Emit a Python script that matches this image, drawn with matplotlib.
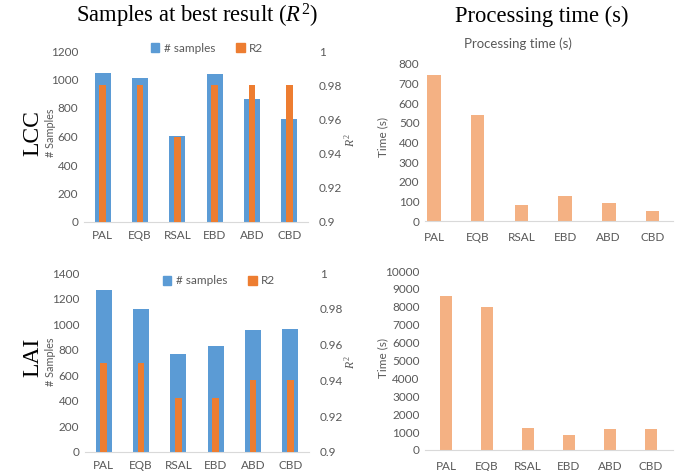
import matplotlib
matplotlib.use("Agg")
import matplotlib.pyplot as plt
from matplotlib.patches import Patch
from matplotlib.ticker import FuncFormatter

methods = ["PAL", "EQB", "RSAL", "EBD", "ABD", "CBD"]

# LCC
lcc_samples = [1045, 1012, 603, 1038, 865, 725]
lcc_r2 = [0.98, 0.98, 0.95, 0.98, 0.98, 0.98]
lcc_time = [742, 538, 80, 126, 90, 50]

# LAI
lai_samples = [1265, 1120, 763, 829, 957, 965]
lai_r2 = [0.95, 0.95, 0.93, 0.93, 0.94, 0.94]
lai_time = [8630, 8000, 1220, 830, 1150, 1150]

BLUE = "#5B9BD5"
ORANGE = "#ED7D31"
LIGHT = "#F4B183"
GREY = "#595959"

plt.rcParams["font.family"] = ["Lato", "DejaVu Sans"]
plt.rcParams["mathtext.fontset"] = "custom"
plt.rcParams["mathtext.rm"] = "Liberation Serif"
plt.rcParams["mathtext.it"] = "Liberation Serif:italic"

W, H = 679, 471
fig = plt.figure(figsize=(W / 100, H / 100), dpi=100)


def px_axes(x0, x1, y0, y1):
    # pixel box (top-left origin) -> figure axes
    return fig.add_axes([x0 / W, 1 - y1 / H, (x1 - x0) / W, (y1 - y0) / H])


def style(ax):
    for s in ["top", "right", "left"]:
        ax.spines[s].set_visible(False)
    ax.spines["bottom"].set_color("#D9D9D9")
    ax.tick_params(length=0, labelsize=8.5, colors=GREY, pad=4)


def samples_chart(box, samples, r2, ymax, step, ylab_y, legend_xy, r2_lab_y):
    ax = px_axes(*box)
    x = list(range(len(methods)))
    ax.bar(x, samples, width=0.42, color=BLUE, zorder=2)
    ax.set_xlim(-0.5, 5.5)
    ax.set_ylim(0, ymax)
    ax.set_yticks(range(0, ymax + 1, step))
    ax.set_xticks(x)
    ax.set_xticklabels(methods)
    style(ax)
    ax.tick_params(axis="x", pad=6)

    ax2 = ax.twinx()
    ax2.bar(x, r2, width=0.18, color=ORANGE, zorder=3)
    ax2.set_ylim(0.9, 1.0)
    ax2.set_yticks([0.9, 0.92, 0.94, 0.96, 0.98, 1.0])
    ax2.yaxis.set_major_formatter(FuncFormatter(lambda v, p: "%g" % round(v, 2)))
    for s in ["top", "right", "left", "bottom"]:
        ax2.spines[s].set_visible(False)
    ax2.tick_params(length=0, labelsize=8.5, colors=GREY, pad=8)

    fig.text(50 / W, 1 - ylab_y / H, "# Samples", rotation=90, fontsize=7.8,
             color=GREY, ha="center", va="center")
    fig.text(350 / W, 1 - r2_lab_y / H, "$R^2$", rotation=90, fontsize=8.5,
             color=GREY, ha="center", va="center")

    handles = [Patch(color=BLUE, label="# samples"), Patch(color=ORANGE, label="R2")]
    fig.legend(handles=handles, loc="center", ncol=2, frameon=False,
               bbox_to_anchor=(legend_xy[0] / W, 1 - legend_xy[1] / H),
               fontsize=8.5, handlelength=0.7, handleheight=0.7,
               handletextpad=0.4, columnspacing=1.8, labelcolor=GREY)


def time_chart(box, xlim, times, ymax, step, width, ylab_y):
    ax = px_axes(*box)
    x = list(range(len(methods)))
    ax.bar(x, times, width=width, color=LIGHT, zorder=2)
    ax.set_xlim(*xlim)
    ax.set_ylim(0, ymax)
    ax.set_yticks(range(0, ymax + 1, step))
    ax.set_xticks(x)
    ax.set_xticklabels(methods)
    style(ax)
    ax.tick_params(axis="x", pad=8)
    fig.text(383 / W, 1 - ylab_y / H, "Time (s)", rotation=90, fontsize=8.5,
             color=GREY, ha="center", va="center")
    return ax


samples_chart((84, 308, 51, 222), lcc_samples, lcc_r2, 1200, 200, 133, (207, 48), 140)
samples_chart((85, 309, 273, 452), lai_samples, lai_r2, 1400, 200, 362, (219, 281), 362)

time_chart((425, 673, 64, 221), (-0.206, 5.47), lcc_time, 800, 100, 0.31, 137)
time_chart((425, 673, 271, 450), (-0.51, 5.54), lai_time, 10000, 1000, 0.3, 358)

fig.text(518 / W, 1 - 44 / H, "Processing time (s)", fontsize=9.5, color=GREY,
         ha="center", va="center")

fig.text(197 / W, 1 - 16 / H, "Samples at best result ($R^2$)", fontsize=16.3,
         family="Liberation Serif", ha="center", va="center")
fig.text(542 / W, 1 - 16 / H, "Processing time (s)", fontsize=16.3,
         family="Liberation Serif", ha="center", va="center")
fig.text(33 / W, 1 - 133 / H, "LCC", fontsize=17, family="Liberation Serif",
         rotation=90, ha="center", va="center")
fig.text(33 / W, 1 - 357 / H, "LAI", fontsize=17, family="Liberation Serif",
         rotation=90, ha="center", va="center")

fig.savefig("out.png", dpi=100)
